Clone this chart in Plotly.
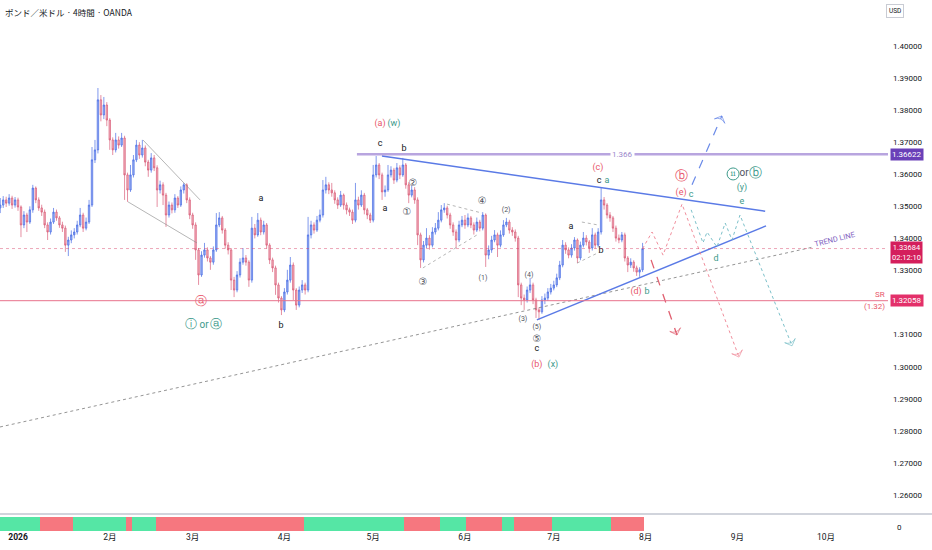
import pandas as pd
import plotly.graph_objects as go

# ---- price data (daily bars) ----
first_open = 1.3495
closes = [
    1.3504, 1.3520, 1.3510, 1.3526, 1.3504, 1.3520, 1.3498, 1.3442, 1.3473, 1.3451,
    1.3489, 1.3557, 1.3520, 1.3495, 1.3482, 1.3442, 1.3420, 1.3451, 1.3482, 1.3464,
    1.3442, 1.3432, 1.3379, 1.3395, 1.3411, 1.3420, 1.3442, 1.3473, 1.3432, 1.3451,
    1.3504, 1.3645, 1.3676, 1.3832, 1.3785, 1.3816, 1.3769, 1.3707, 1.3676, 1.3707,
    1.3691, 1.3713, 1.3598, 1.3551, 1.3598, 1.3645, 1.3691, 1.3660, 1.3682, 1.3638,
    1.3613, 1.3651, 1.3620, 1.3551, 1.3567, 1.3535, 1.3473, 1.3504, 1.3489, 1.3526,
    1.3504, 1.3551, 1.3567, 1.3520, 1.3473, 1.3442, 1.3364, 1.3286, 1.3348, 1.3364,
    1.3339, 1.3326, 1.3364, 1.3442, 1.3464, 1.3426, 1.3379, 1.3364, 1.3270, 1.3239,
    1.3286, 1.3326, 1.3339, 1.3326, 1.3270, 1.3432, 1.3411, 1.3457, 1.3420, 1.3442,
    1.3379, 1.3333, 1.3308, 1.3255, 1.3214, 1.3177, 1.3233, 1.3270, 1.3317, 1.3239,
    1.3192, 1.3239, 1.3255, 1.3239, 1.3411, 1.3442, 1.3426, 1.3457, 1.3473, 1.3551,
    1.3567, 1.3551, 1.3542, 1.3520, 1.3504, 1.3535, 1.3504, 1.3489, 1.3482, 1.3457,
    1.3520, 1.3504, 1.3535, 1.3489, 1.3473, 1.3457, 1.3598, 1.3629, 1.3598, 1.3545,
    1.3551, 1.3598, 1.3613, 1.3582, 1.3620, 1.3598, 1.3629, 1.3567, 1.3535, 1.3551,
    1.3520, 1.3411, 1.3333, 1.3379, 1.3401, 1.3379, 1.3420, 1.3432, 1.3457, 1.3489,
    1.3495, 1.3473, 1.3442, 1.3420, 1.3395, 1.3442, 1.3457, 1.3442, 1.3464, 1.3442,
    1.3426, 1.3451, 1.3432, 1.3473, 1.3348, 1.3364, 1.3395, 1.3411, 1.3379, 1.3411,
    1.3442, 1.3451, 1.3426, 1.3420, 1.3401, 1.3255, 1.3214, 1.3208, 1.3239, 1.3255,
    1.3208, 1.3177, 1.3171, 1.3208, 1.3214, 1.3233, 1.3245, 1.3255, 1.3277, 1.3317,
    1.3379, 1.3364, 1.3348, 1.3370, 1.3395, 1.3339, 1.3379, 1.3401, 1.3389, 1.3370,
    1.3411, 1.3379, 1.3420, 1.3520, 1.3504, 1.3473, 1.3464, 1.3432, 1.3401, 1.3395,
    1.3411, 1.3339, 1.3317, 1.3326, 1.3308, 1.3295, 1.3302, 1.33684,
]
highs = [
    1.3526, 1.3532, 1.3530, 1.3538, 1.3533, 1.3529, 1.3527, 1.3503, 1.3485, 1.3480,
    1.3500, 1.3567, 1.3562, 1.3528, 1.3505, 1.3490, 1.3450, 1.3462, 1.3495, 1.3490,
    1.3470, 1.3452, 1.3440, 1.3405, 1.3425, 1.3432, 1.3455, 1.3495, 1.3480, 1.3465,
    1.3520, 1.3685, 1.3707, 1.3869, 1.3847, 1.3841, 1.3825, 1.3775, 1.3715, 1.3729,
    1.3718, 1.3729, 1.3720, 1.3605, 1.3629, 1.3660, 1.3707, 1.3700, 1.3707, 1.3690,
    1.3645, 1.3666, 1.3660, 1.3628, 1.3580, 1.3575, 1.3542, 1.3515, 1.3512, 1.3538,
    1.3532, 1.3562, 1.3573, 1.3572, 1.3528, 1.3480, 1.3450, 1.3370, 1.3360, 1.3386,
    1.3372, 1.3345, 1.3375, 1.3479, 1.3482, 1.3470, 1.3432, 1.3388, 1.3370, 1.3280,
    1.3298, 1.3338, 1.3370, 1.3348, 1.3332, 1.3467, 1.3445, 1.3479, 1.3465, 1.3455,
    1.3448, 1.3385, 1.3340, 1.3315, 1.3262, 1.3220, 1.3245, 1.3302, 1.3342, 1.3325,
    1.3245, 1.3250, 1.3270, 1.3262, 1.3467, 1.3455, 1.3450, 1.3470, 1.3490, 1.3582,
    1.3592, 1.3575, 1.3573, 1.3550, 1.3528, 1.3548, 1.3540, 1.3512, 1.3496, 1.3490,
    1.3573, 1.3530, 1.3550, 1.3542, 1.3495, 1.3480, 1.3629, 1.3657, 1.3635, 1.3605,
    1.3565, 1.3629, 1.3625, 1.3620, 1.3635, 1.3628, 1.3651, 1.3635, 1.3575, 1.3565,
    1.3560, 1.3528, 1.3418, 1.3392, 1.3432, 1.3410, 1.3435, 1.3448, 1.3482, 1.3504,
    1.3510, 1.3502, 1.3480, 1.3450, 1.3428, 1.3455, 1.3470, 1.3473, 1.3478, 1.3470,
    1.3450, 1.3465, 1.3458, 1.3482, 1.3478, 1.3378, 1.3408, 1.3426, 1.3418, 1.3425,
    1.3457, 1.3464, 1.3458, 1.3435, 1.3428, 1.3408, 1.3262, 1.3225, 1.3250, 1.3277,
    1.3262, 1.3215, 1.3185, 1.3220, 1.3228, 1.3245, 1.3258, 1.3268, 1.3290, 1.3330,
    1.3395, 1.3388, 1.3372, 1.3382, 1.3404, 1.3400, 1.3390, 1.3420, 1.3410, 1.3395,
    1.3432, 1.3418, 1.3432, 1.3557, 1.3529, 1.3510, 1.3482, 1.3470, 1.3440, 1.3412,
    1.3420, 1.3418, 1.3345, 1.3338, 1.3332, 1.3315, 1.3310, 1.3386,
]
lows = [
    1.3479, 1.3495, 1.3498, 1.3502, 1.3492, 1.3496, 1.3486, 1.3404, 1.3432, 1.3420,
    1.3445, 1.3480, 1.3510, 1.3486, 1.3470, 1.3432, 1.3395, 1.3412, 1.3445, 1.3455,
    1.3433, 1.3420, 1.3358, 1.3345, 1.3385, 1.3400, 1.3412, 1.3435, 1.3420, 1.3425,
    1.3445, 1.3498, 1.3635, 1.3665, 1.3765, 1.3772, 1.3750, 1.3676, 1.3660, 1.3668,
    1.3680, 1.3685, 1.3520, 1.3514, 1.3545, 1.3590, 1.3638, 1.3648, 1.3652, 1.3625,
    1.3592, 1.3605, 1.3610, 1.3498, 1.3540, 1.3504, 1.3436, 1.3465, 1.3478, 1.3480,
    1.3495, 1.3498, 1.3540, 1.3510, 1.3460, 1.3430, 1.3333, 1.3255, 1.3280, 1.3340,
    1.3328, 1.3302, 1.3318, 1.3358, 1.3435, 1.3415, 1.3368, 1.3350, 1.3239, 1.3217,
    1.3232, 1.3278, 1.3318, 1.3315, 1.3249, 1.3262, 1.3400, 1.3405, 1.3410, 1.3412,
    1.3368, 1.3320, 1.3295, 1.3224, 1.3200, 1.3161, 1.3170, 1.3225, 1.3262, 1.3208,
    1.3177, 1.3185, 1.3230, 1.3225, 1.3232, 1.3400, 1.3415, 1.3420, 1.3450, 1.3465,
    1.3540, 1.3538, 1.3530, 1.3508, 1.3492, 1.3498, 1.3490, 1.3475, 1.3470, 1.3445,
    1.3450, 1.3490, 1.3498, 1.3475, 1.3460, 1.3448, 1.3450, 1.3590, 1.3585, 1.3520,
    1.3530, 1.3545, 1.3590, 1.3570, 1.3575, 1.3585, 1.3592, 1.3555, 1.3510, 1.3528,
    1.3508, 1.3379, 1.3308, 1.3325, 1.3370, 1.3365, 1.3372, 1.3412, 1.3425, 1.3450,
    1.3480, 1.3462, 1.3430, 1.3408, 1.3370, 1.3388, 1.3435, 1.3430, 1.3435, 1.3432,
    1.3412, 1.3420, 1.3422, 1.3425, 1.3311, 1.3335, 1.3355, 1.3388, 1.3342, 1.3372,
    1.3405, 1.3435, 1.3415, 1.3408, 1.3390, 1.3217, 1.3192, 1.3177, 1.3200, 1.3230,
    1.3195, 1.3152, 1.3146, 1.3165, 1.3195, 1.3205, 1.3225, 1.3238, 1.3248, 1.3270,
    1.3310, 1.3352, 1.3338, 1.3340, 1.3362, 1.3323, 1.3332, 1.3372, 1.3378, 1.3355,
    1.3362, 1.3368, 1.3372, 1.3412, 1.3490, 1.3462, 1.3452, 1.3420, 1.3390, 1.3385,
    1.3388, 1.3328, 1.3295, 1.3308, 1.3296, 1.3283, 1.3280, 1.3295,
]
first_bar = "2025-12-26"

# indicator pane regimes (start date, state)
regime_starts = ["2025-12-26", "2026-01-09", "2026-01-20", "2026-02-07", "2026-02-09",
                 "2026-02-17", "2026-04-08", "2026-05-12", "2026-05-24", "2026-06-02",
                 "2026-06-14", "2026-06-18", "2026-07-01", "2026-07-21"]
regime_state = ["up", "down", "up", "down", "up", "down", "up", "down", "up", "down",
                "up", "down", "up", "down"]

# axis ticks (1.32000 sits under the SR price tag in the original, so it is not shown)
price_ticks = [1.26, 1.27, 1.28, 1.29, 1.30, 1.31, 1.33, 1.34, 1.35, 1.36, 1.37, 1.38, 1.39, 1.40]
month_ticks = ["2026-01-01", "2026-02-01", "2026-03-01", "2026-04-01", "2026-05-01",
               "2026-06-01", "2026-07-01", "2026-08-01", "2026-09-01", "2026-10-01"]
month_text = ["<b>2026</b>", "2月", "3月", "4月", "5月", "6月", "7月", "8月", "9月", "10月"]

sr_level = 1.32058
res_level = 1.36622
res_start = "2026-04-25 12:00"
countdown = "02:12:10"

# drawings: (dates, prices)
channel_up = (["2026-02-12 05:00", "2026-03-03 12:00"], [1.3707, 1.3520])
channel_lo = (["2026-02-07 04:00", "2026-03-02 11:00"], [1.3514, 1.3386])
tri4_lo = (["2026-05-17 19:00", "2026-06-05 02:00"], [1.3308, 1.3411])
tri4_up = (["2026-05-25 22:00", "2026-06-06 19:00"], [1.3507, 1.3479])
tri_jul_lo = (["2026-07-08 21:00", "2026-07-16 14:00"], [1.3323, 1.3358])
tri_jul_up = (["2026-07-10 12:00", "2026-07-15 22:00"], [1.3451, 1.3442])
wedge_up = (["2026-05-03 23:00", "2026-09-10 10:00"], [1.3657, 1.3485])
wedge_lo = (["2026-06-25 07:00", "2026-09-10 17:00"], [1.3146, 1.3439])
trend_line = (["2025-12-25 22:00", "2026-09-26 14:00"], [1.2812, 1.3373])
path_red = (["2026-07-31 00:00", "2026-08-03 05:00", "2026-08-06 22:00", "2026-08-13 08:00",
             "2026-09-01 14:00"], [1.3368, 1.3420, 1.3348, 1.3507, 1.3030])
arrow_red = (["2026-08-02 21:00", "2026-08-11 15:00"], [1.3333, 1.3099])
arrow_blue = (["2026-08-16 17:00", "2026-08-26 19:00"], [1.3567, 1.3782])
path_teal = (["2026-08-16 10:00", "2026-08-20 10:00", "2026-08-21 19:00", "2026-08-25 03:00",
              "2026-08-27 22:00", "2026-08-30 05:00", "2026-09-01 22:00", "2026-09-19 12:00"],
             [1.3489, 1.3386, 1.3420, 1.3373, 1.3448, 1.3395, 1.3473, 1.3065])

# wave labels
K, R, T, G = "#131722", "#e8576b", "#3d9a8b", "#50535e"
labels = [
    ("2026-03-24 02:00", 1.3523, "a", K, 9),
    ("2026-03-30 21:00", 1.3127, "b", K, 9),
    ("2026-03-03 20:00", 1.3202, "ⓐ", R, 12),
    ("2026-02-28 10:00", 1.3130, "ⓘ", T, 12),
    ("2026-03-04 20:00", 1.3130, "or", T, 10),
    ("2026-03-08 22:00", 1.3130, "ⓐ", T, 12),
    ("2026-05-03 07:00", 1.3757, "(a)", R, 9),
    ("2026-05-08 00:00", 1.3757, "(w)", T, 9),
    ("2026-05-03 07:00", 1.3694, "c", K, 9),
    ("2026-05-11 10:00", 1.3679, "b", K, 9),
    ("2026-05-05 00:00", 1.3492, "a", K, 9),
    ("2026-05-14 10:00", 1.3570, "②", G, 10),
    ("2026-05-12 10:00", 1.3482, "①", G, 10),
    ("2026-05-17 19:00", 1.3261, "③", G, 10),
    ("2026-06-06 19:00", 1.3514, "④", G, 10),
    ("2026-06-07 02:00", 1.3277, "(1)", G, 7),
    ("2026-06-14 22:00", 1.3489, "(2)", G, 7),
    ("2026-06-20 14:00", 1.3149, "(3)", G, 7),
    ("2026-06-22 15:00", 1.3286, "(4)", G, 7),
    ("2026-06-25 07:00", 1.3124, "(5)", G, 7),
    ("2026-06-25 07:00", 1.3086, "⑤", G, 10),
    ("2026-06-25 07:00", 1.3055, "c", K, 9),
    ("2026-06-25 07:00", 1.3005, "(b)", R, 9),
    ("2026-06-30 17:00", 1.3005, "(x)", T, 9),
    ("2026-07-06 19:00", 1.3436, "a", K, 9),
    ("2026-07-17 00:00", 1.3361, "b", K, 9),
    ("2026-07-15 22:00", 1.3620, "(c)", R, 9),
    ("2026-07-16 07:00", 1.3579, "c", K, 9),
    ("2026-07-19 00:00", 1.3579, "a", T, 9),
    ("2026-07-28 19:00", 1.3233, "(d)", R, 9),
    ("2026-08-01 12:00", 1.3233, "b", T, 9),
    ("2026-08-13 00:00", 1.3592, "ⓑ", R, 13),
    ("2026-08-13 00:00", 1.3542, "(e)", R, 9),
    ("2026-08-16 10:00", 1.3535, "c", T, 9),
    ("2026-09-03 07:00", 1.3601, "or", G, 10),
    ("2026-09-07 07:00", 1.3601, "ⓑ", T, 13),
    ("2026-09-02 14:00", 1.3557, "(y)", T, 9),
    ("2026-09-02 14:00", 1.3514, "e", T, 9),
    ("2026-08-24 19:00", 1.3336, "d", T, 9),
]
circled_ii = ("2026-08-30 14:00", 1.3601, "ii")

x_range = ["2025-12-25 22:00", "2026-10-21 22:00"]
y_range = [1.25469, 1.41434]

# ---------------------------------------------------------------
bar_dates = pd.date_range(first_bar, periods=len(closes), freq="D")
opens = [first_open] + closes[:-1]

reg_start = pd.to_datetime(regime_starts)
bar_colors = []
for d in bar_dates:
    k = int((reg_start <= d).sum()) - 1
    bar_colors.append("#55e6a5" if regime_state[k] == "up" else "#f6777f")

fig = go.Figure()

fig.add_trace(go.Bar(
    x=bar_dates, y=[1] * len(bar_dates), width=86400000,
    marker=dict(color=bar_colors, line=dict(width=0)),
    xaxis="x", yaxis="y2", hoverinfo="skip"))

fig.add_trace(go.Candlestick(
    x=bar_dates, open=opens, high=highs, low=lows, close=closes,
    increasing=dict(line=dict(color="rgba(66,104,228,0.85)", width=0.8),
                    fillcolor="rgba(90,125,232,0.6)"),
    decreasing=dict(line=dict(color="rgba(214,78,108,0.8)", width=0.8),
                    fillcolor="rgba(230,120,140,0.55)"),
    whiskerwidth=0, hoverinfo="skip"))


def add_line(seg, color, width=1.0, dash="solid", arrow=False):
    xs, ys = seg
    n = len(xs)
    kw = dict(mode="lines")
    if arrow:
        kw = dict(mode="lines+markers",
                  marker=dict(symbol=["circle"] * (n - 1) + ["arrow-wide-open"],
                              size=[0] * (n - 1) + [8], angleref="previous",
                              color=color, line=dict(color=color, width=1)))
    fig.add_trace(go.Scatter(x=xs, y=ys, line=dict(color=color, width=width, dash=dash),
                             hoverinfo="skip", cliponaxis=False, **kw))


add_line(channel_up, "rgba(140,140,140,0.8)", 0.8)
add_line(channel_lo, "rgba(140,140,140,0.8)", 0.8)
add_line(tri4_lo, "rgba(140,140,140,0.8)", 0.8, "dot")
add_line(tri4_up, "rgba(140,140,140,0.8)", 0.8, "dot")
add_line(tri_jul_lo, "rgba(140,140,140,0.8)", 0.8, "dot")
add_line(tri_jul_up, "rgba(140,140,140,0.8)", 0.8, "dot")
add_line(trend_line, "rgba(130,130,130,0.85)", 1, "dot")
add_line(wedge_up, "#5a7ae6", 1.5)
add_line(wedge_lo, "#5a7ae6", 1.5)
add_line(path_red, "rgba(238,130,145,0.9)", 1, "dot", arrow=True)
add_line(arrow_red, "#e06070", 1.3, "dash", arrow=True)
add_line(arrow_blue, "rgba(90,125,230,0.9)", 1.2, "dash", arrow=True)
add_line(path_teal, "rgba(110,185,195,0.9)", 1, "dot", arrow=True)

fig.add_trace(go.Scatter(
    x=[l[0] for l in labels], y=[l[1] for l in labels], mode="text",
    text=[l[2] for l in labels],
    textfont=dict(color=[l[3] for l in labels], size=[l[4] for l in labels],
                  family="Roboto, DejaVu Sans"),
    hoverinfo="skip", cliponaxis=False))
fig.add_trace(go.Scatter(
    x=[circled_ii[0]], y=[circled_ii[1]], mode="markers+text", text=[circled_ii[2]],
    textposition="middle center",
    textfont=dict(color=T, size=8, family="DejaVu Serif"),
    marker=dict(symbol="circle-open", size=12, color=T, line=dict(width=1, color=T)),
    hoverinfo="skip", cliponaxis=False))

last_close = closes[-1]
shapes = [
    dict(type="line", xref="x", yref="y", x0=x_range[0], x1=x_range[1],
         y0=sr_level, y1=sr_level, line=dict(color="#e8728c", width=1)),
    dict(type="line", xref="x", yref="y", x0=x_range[0], x1=x_range[1],
         y0=last_close, y1=last_close, line=dict(color="rgba(214,60,100,0.45)", width=1, dash="dot")),
    dict(type="line", xref="x", yref="y", x0=res_start, x1=x_range[1],
         y0=res_level, y1=res_level, line=dict(color="rgba(160,135,212,0.75)", width=2.5)),
    dict(type="line", xref="paper", yref="paper", x0=0, x1=1.06, y0=0.0338, y1=0.0338,
         line=dict(color="#d1d4dc", width=2)),
]

ann = [
    dict(xref="paper", yref="paper", x=0, y=1, xanchor="left", yanchor="top", xshift=3, yshift=-4,
         text="ポンド／米ドル · 4時間 · OANDA", showarrow=False,
         font=dict(family="Noto Sans CJK JP", size=8.5, color="#131722")),
    dict(xref="paper", yref="paper", x=1.018, y=1, yanchor="top", yshift=-4,
         text="USD", showarrow=False, bordercolor="#c9ccd4", borderwidth=1, borderpad=2,
         font=dict(size=6.5, color="#131722")),
    dict(xref="x", yref="y", x="2026-07-24 02:00", y=res_level, text="1.366", showarrow=False,
         bgcolor="white", borderpad=1, font=dict(size=8, color="#9c88cc")),
    dict(xref="x", yref="y", x="2026-10-03 17:00", y=1.3398, text="TREND LINE", showarrow=False,
         textangle=-14, font=dict(size=7.5, color="#7e60c0")),
    dict(xref="paper", yref="y", x=1, y=sr_level, xanchor="right", yshift=6, xshift=-1,
         text="SR", showarrow=False, font=dict(size=8, color=R)),
    dict(xref="paper", yref="y", x=1, y=sr_level, xanchor="right", yshift=-6, xshift=-1,
         text="(1.32)", showarrow=False, font=dict(size=8, color=R)),
    dict(xref="paper", yref="y", x=1, y=res_level, xanchor="left", xshift=2,
         text=f"{res_level:.5f}", showarrow=False, bgcolor="#6a40b8", borderpad=1,
         font=dict(size=8, color="white")),
    dict(xref="paper", yref="y", x=1, y=last_close, xanchor="left", xshift=2, yshift=-4,
         text=f"{last_close:.5f}<br>{countdown}", showarrow=False, bgcolor="#d41e5c", borderpad=1,
         font=dict(size=7.5, color="white")),
    dict(xref="paper", yref="y", x=1, y=sr_level, xanchor="left", xshift=2,
         text=f"{sr_level:.5f}", showarrow=False, bgcolor="#e3306a", borderpad=1,
         font=dict(size=8, color="white")),
    dict(xref="paper", yref="y2", x=1, y=0.25, xanchor="left", xshift=7,
         text="0", showarrow=False, font=dict(size=8, color="#131722")),
]

fig.update_layout(
    width=932, height=550,
    margin=dict(l=0, r=44, t=0, b=18),
    paper_bgcolor="white", plot_bgcolor="white",
    showlegend=False, hovermode=False, bargap=0,
    font=dict(family="Roboto, Noto Sans CJK JP", size=8, color="#131722"),
    shapes=shapes, annotations=ann,
    xaxis=dict(type="date", range=x_range, anchor="y2", showgrid=False, zeroline=False,
               showline=False, ticks="", tickvals=month_ticks, ticktext=month_text,
               tickfont=dict(size=8.5, color="#131722"), rangeslider=dict(visible=False),
               fixedrange=True),
    yaxis=dict(domain=[0.0376, 1], range=y_range, side="right", anchor="x", showgrid=False,
               zeroline=False, showline=False, ticks="", tickvals=price_ticks,
               ticktext=[f"{v:.5f}" for v in price_ticks], ticklabelstandoff=4,
               tickfont=dict(size=8, color="#131722"), fixedrange=True),
    yaxis2=dict(domain=[0.0019, 0.0282], range=[0, 1], anchor="x", showgrid=False,
                zeroline=False, showticklabels=False, fixedrange=True),
)

# the page's default 8px body margin would shift the whole chart
fig.write_html("out.html", config={"displayModeBar": False},
               post_script="document.body.style.margin='0px';")
